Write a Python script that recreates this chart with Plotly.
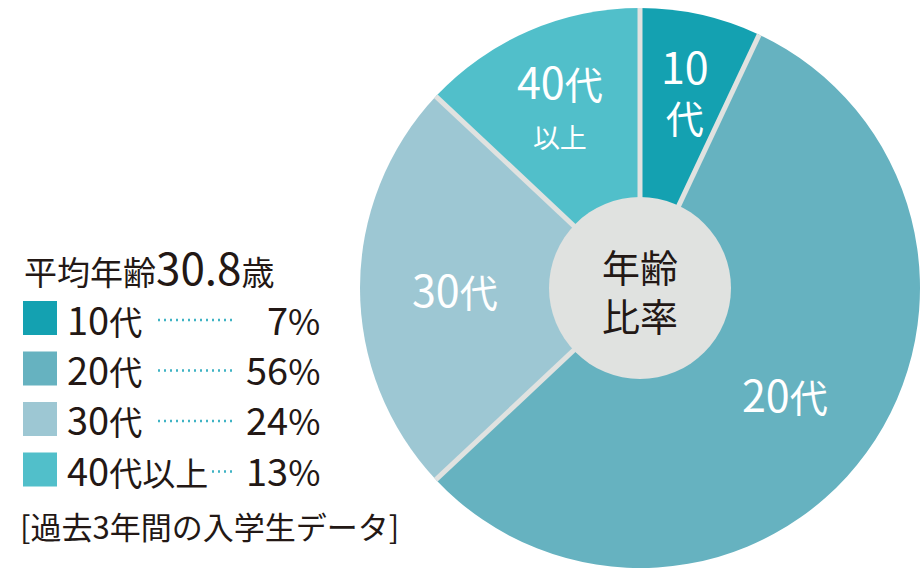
import math
import re
import plotly.graph_objects as go

# data
ages = ["10代", "20代", "30代", "40代以上"]
shares = [7, 56, 24, 13]
slice_text = ["10<br>代", "20代", "30代", "40代<br>以上"]
colors = ["#14a1b1", "#66b2c0", "#9dc7d3", "#51bfca"]
avg_age = "30.8"
note = "[過去3年間の入学生データ]"

W, H = 920, 580
GRAY = "#e0e2e0"
INK = "#231815"
FONT = "Noto Sans CJK JP"

# pie geometry in pixels
cx, cy, R = 640, 288, 280
hole_r = 91
label_r = [0.73, 0.64, 0.66, 0.72]  # label distance from centre, share of radius


def px(x):
    return x / W


def py(y):
    return 1 - y / H


def big_digits(s, size):
    # digits are set a little larger than the kana/kanji, like the original
    return re.sub(r"([0-9.]+)", lambda m: f"<span style='font-size:{size}px'>{m.group(1)}</span>", s)


fig = go.Figure(go.Pie(
    values=shares,
    labels=ages,
    sort=False,
    direction="clockwise",
    rotation=0,
    textinfo="none",
    hoverinfo="label+percent",
    marker=dict(colors=colors, line=dict(width=0)),
    domain=dict(x=[px(cx - R), px(cx + R)], y=[py(cy + R), py(cy - R)]),
    showlegend=False,
))

total = sum(shares)
shapes = []
annotations = []
cum = 0
for i, v in enumerate(shares):
    start = cum / total * 2 * math.pi
    cum += v
    end = cum / total * 2 * math.pi
    # gray separator at the start of each slice
    shapes.append(dict(
        type="line", xref="paper", yref="paper",
        x0=px(cx), y0=py(cy),
        x1=px(cx + R * math.sin(start)), y1=py(cy - R * math.cos(start)),
        line=dict(color=GRAY, width=5), layer="above",
    ))
    mid = (start + end) / 2
    r = R * label_r[i]
    txt = big_digits(slice_text[i], 43)
    txt = txt.replace("<br>以上", "<br><span style='font-size:27px'>以上</span>")
    annotations.append(dict(
        x=px(cx + r * math.sin(mid)), y=py(cy - r * math.cos(mid)),
        xref="paper", yref="paper", text=txt, showarrow=False,
        font=dict(family=FONT, size=38, color="white"),
        xanchor="center", yanchor="middle",
    ))

# center disc
shapes.append(dict(
    type="circle", xref="paper", yref="paper",
    x0=px(cx - hole_r), x1=px(cx + hole_r),
    y0=py(cy + hole_r), y1=py(cy - hole_r),
    fillcolor=GRAY, line=dict(width=0), layer="above",
))
annotations.append(dict(
    x=px(cx), y=py(cy + 2), xref="paper", yref="paper",
    text="年齢<br>比率", showarrow=False,
    font=dict(family=FONT, size=38, color=INK),
    xanchor="center", yanchor="middle",
))

# legend block on the left
annotations.append(dict(
    x=px(22), y=py(266), xref="paper", yref="paper",
    text="平均年齢" + big_digits(avg_age, 44) + "歳",
    showarrow=False, font=dict(family=FONT, size=33, color=INK),
    xanchor="left", yanchor="middle",
))
row0, step = 318, 50.5
for i, (a, v, c) in enumerate(zip(ages, shares, colors)):
    y = row0 + i * step
    shapes.append(dict(
        type="rect", xref="paper", yref="paper",
        x0=px(23), x1=px(57), y0=py(y + 17), y1=py(y - 17),
        fillcolor=c, line=dict(width=0),
    ))
    shapes.append(dict(
        type="line", xref="paper", yref="paper",
        x0=px(158), x1=px(236), y0=py(y + 2), y1=py(y + 2),
        line=dict(color="#3fb3c4", width=2.5, dash="2px,4px"),
    ))
    annotations.append(dict(
        x=px(66), y=py(y), xref="paper", yref="paper", text=big_digits(a, 38),
        showarrow=False, font=dict(family=FONT, size=33, color=INK),
        xanchor="left", yanchor="middle", bgcolor="white", borderpad=0,
    ))
    annotations.append(dict(
        x=px(322), y=py(y), xref="paper", yref="paper", text=big_digits(f"{v}%", 38),
        showarrow=False, font=dict(family=FONT, size=35, color=INK),
        xanchor="right", yanchor="middle",
    ))
annotations.append(dict(
    x=px(18), y=py(525), xref="paper", yref="paper", text=note,
    showarrow=False, font=dict(family=FONT, size=31, color=INK),
    xanchor="left", yanchor="middle",
))

fig.update_layout(
    width=W, height=H,
    margin=dict(l=0, r=0, t=0, b=0),
    paper_bgcolor="white",
    plot_bgcolor="white",
    shapes=shapes,
    annotations=annotations,
)

fig.write_html(
    "out.html",
    config={"displayModeBar": False},
    post_script="document.body.style.margin='0';",
)
